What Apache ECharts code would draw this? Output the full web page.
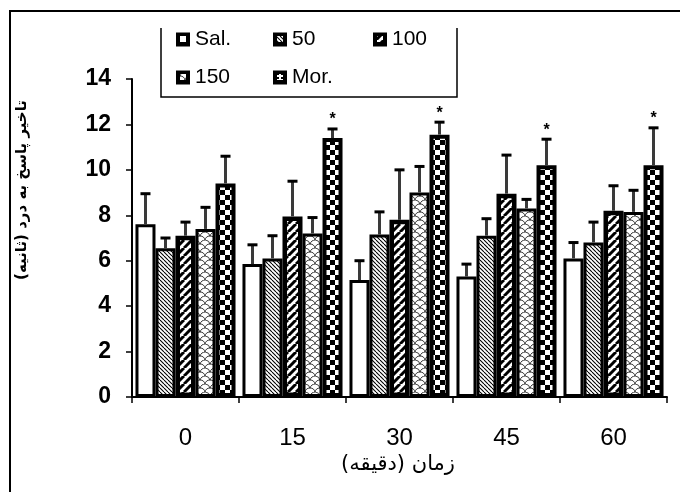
<!DOCTYPE html>
<html>
<head>
<meta charset="utf-8">
<script src="https://cdn.jsdelivr.net/npm/echarts@6/dist/echarts.min.js"></script>
<style>
html,body{margin:0;padding:0;background:#fff;}
#chart{width:680px;height:492px;}
</style>
</head>
<body>
<div id="chart"></div>
<script>
// ---- data ----
var categories = ['0', '15', '30', '45', '60'];
var seriesNames = ['Sal.', '50', '100', '150', 'Mor.'];
var salValues = [7.6, 5.85, 5.15, 5.3, 6.1];
var salErr = [1.35, 0.85, 0.85, 0.55, 0.7];
var d50Values = [6.55, 6.1, 7.15, 7.1, 6.8];
var d50Err = [0.45, 1.0, 1.0, 0.75, 0.9];
var d100Values = [7.1, 7.95, 7.8, 8.95, 8.2];
var d100Err = [0.6, 1.55, 2.2, 1.7, 1.1];
var d150Values = [7.4, 7.2, 9.0, 8.3, 8.15];
var d150Err = [0.95, 0.7, 1.15, 0.4, 0.95];
var morValues = [9.4, 11.4, 11.55, 10.2, 10.2];
var morErr = [1.2, 0.4, 0.55, 1.15, 1.65];
var morStars = [false, true, true, true, true];
var yTicks = {min: 0, max: 14, interval: 2};
var yTitle = '\u202Bتاخیر پاسخ به درد (ثانیه)\u202C';
var xTitle = '\u202Bزمان (دقیقه)\u202C';

// ---- patterns ----
function mk(w, h, draw) {
  var c = document.createElement('canvas');
  c.width = w; c.height = h;
  var ctx = c.getContext('2d');
  ctx.fillStyle = '#fff'; ctx.fillRect(0, 0, w, h);
  draw(ctx, w, h);
  return {image: c, repeat: 'repeat'};
}
var pat50 = mk(4, 4, function (ctx) {
  ctx.strokeStyle = '#000'; ctx.lineWidth = 1.1;
  for (var o = -8; o <= 8; o += 4) {
    ctx.beginPath(); ctx.moveTo(o, 0); ctx.lineTo(o + 4, 4); ctx.stroke();
  }
});
var pat100 = mk(8, 8, function (ctx) {
  ctx.strokeStyle = '#000'; ctx.lineWidth = 3;
  for (var o = -16; o <= 16; o += 8) {
    ctx.beginPath(); ctx.moveTo(o, 8); ctx.lineTo(o + 8, 0); ctx.stroke();
  }
});
var pat150 = mk(10, 8, function (ctx) {
  ctx.strokeStyle = '#222'; ctx.lineWidth = 0.9;
  ctx.beginPath(); ctx.arc(5, 5, 5, Math.PI * 1.05, Math.PI * 1.95); ctx.stroke();
  ctx.beginPath(); ctx.arc(0, 9, 5, Math.PI * 1.5, Math.PI * 1.95); ctx.stroke();
  ctx.beginPath(); ctx.arc(10, 9, 5, Math.PI * 1.05, Math.PI * 1.5); ctx.stroke();
});
var patMor = mk(10, 10, function (ctx) {
  ctx.fillStyle = '#000';
  ctx.fillRect(0, 0, 5, 5); ctx.fillRect(5, 5, 5, 5);
});
var patMorSmall = mk(4, 4, function (ctx) {
  ctx.fillStyle = '#000';
  ctx.fillRect(1, 1, 2, 2);
});

var valueSets = [salValues, d50Values, d100Values, d150Values, morValues];
var errSets = [salErr, d50Err, d100Err, d150Err, morErr];
var fills = ['#fff', pat50, pat100, pat150, patMor];
var iconFills = ['#fff', pat50, pat100, pat150, patMorSmall];
var borderW = [3, 3, 4.5, 3, 4];
var starSets = [null, null, null, null, morStars];
var catGap = 0.065;

var series = [];
for (var k = 0; k < 5; k++) {
  series.push({
    name: seriesNames[k], type: 'bar', data: valueSets[k],
    barGap: '0%', barCategoryGap: (catGap * 100) + '%',
    itemStyle: {color: fills[k], borderColor: '#000', borderWidth: borderW[k]},
    emphasis: {disabled: true}, z: 2
  });
}
for (var k2 = 0; k2 < 5; k2++) {
  (function (k) {
    var d = [];
    for (var i = 0; i < categories.length; i++) {
      d.push([i, valueSets[k][i], errSets[k][i], starSets[k] && starSets[k][i] ? 1 : 0]);
    }
    series.push({
      name: 'err' + k, type: 'custom', data: d, z: 5, silent: true,
      encode: {x: 0, y: 1},
      renderItem: function (params, api) {
        var ci = api.value(0), m = api.value(1), e = api.value(2), st = api.value(3);
        var band = api.size([1, 0])[0];
        var bw = band * (1 - catGap) / 5;
        var p0 = api.coord([ci, m]);
        var p1 = api.coord([ci, m + e]);
        var x = p0[0] + (k - 2) * bw;
        var ch = [
          {type: 'line', shape: {x1: x, y1: p0[1], x2: x, y2: p1[1]}, style: {stroke: '#3a3a3a', lineWidth: 3}},
          {type: 'line', shape: {x1: x - 5, y1: p1[1], x2: x + 5, y2: p1[1]}, style: {stroke: '#000', lineWidth: 3}}
        ];
        if (st) {
          ch.push({type: 'text', x: x, y: p1[1] - 9, style: {text: '*', fill: '#000', font: 'bold 16px "Liberation Sans"', align: 'center', verticalAlign: 'middle'}});
        }
        return {type: 'group', children: ch};
      }
    });
  })(k2);
}

var legendPos = [[176, 29], [273, 29], [373, 29], [176, 67], [273, 67]];
var legends = [];
var graphics = [
  {type: 'polyline', shape: {points: [[10, 492], [10, 11], [680, 11]]}, style: {stroke: '#000', lineWidth: 2, fill: null}},
  {type: 'polyline', shape: {points: [[161, 28], [161, 97], [457, 97], [457, 28]]}, style: {stroke: '#000', lineWidth: 1.5, fill: null}},
  {type: 'text', x: 22, y: 190, rotation: Math.PI / 2,
    style: {text: yTitle, font: 'bold 15px "DejaVu Sans"', fill: '#000', align: 'center', verticalAlign: 'middle'}},
  {type: 'text', x: 398, y: 465,
    style: {text: xTitle, font: '21px "DejaVu Sans"', fill: '#000', align: 'center', verticalAlign: 'middle'}}
];
for (var j = 0; j < 5; j++) {
  legends.push({
    data: [seriesNames[j]], left: legendPos[j][0], top: legendPos[j][1], padding: 0,
    itemWidth: 14, itemHeight: 14, icon: 'rect', selectedMode: false,
    itemStyle: {color: '#000', borderColor: '#000', borderWidth: 0},
    textStyle: {fontFamily: 'Liberation Sans', fontSize: 21, color: '#000'}
  });
  graphics.push({
    type: 'rect', shape: {x: legendPos[j][0] + 4, y: legendPos[j][1] + 7, width: 6, height: 6},
    style: {fill: iconFills[j]}, z: 100
  });
}

var chart = echarts.init(document.getElementById('chart'), null, {renderer: 'canvas'});
chart.setOption({
  animation: false,
  backgroundColor: '#fff',
  legend: legends,
  grid: {left: 132, right: 13, top: 79, bottom: 95, containLabel: false},
  xAxis: {
    type: 'category', data: categories,
    axisLine: {lineStyle: {color: '#000', width: 2}},
    axisTick: {show: true, length: 6, lineStyle: {color: '#000', width: 1.5}},
    axisLabel: {fontFamily: 'Liberation Sans', fontSize: 24, color: '#000', margin: 29}
  },
  yAxis: {
    type: 'value', min: yTicks.min, max: yTicks.max, interval: yTicks.interval,
    axisLine: {show: true, lineStyle: {color: '#000', width: 2}},
    axisTick: {show: true, length: 6, lineStyle: {color: '#000', width: 1.5}},
    splitLine: {show: false},
    axisLabel: {fontFamily: 'Liberation Sans', fontSize: 23, fontWeight: 'bold', color: '#000', margin: 21}
  },
  graphic: graphics,
  series: series
});
</script>
</body>
</html>
